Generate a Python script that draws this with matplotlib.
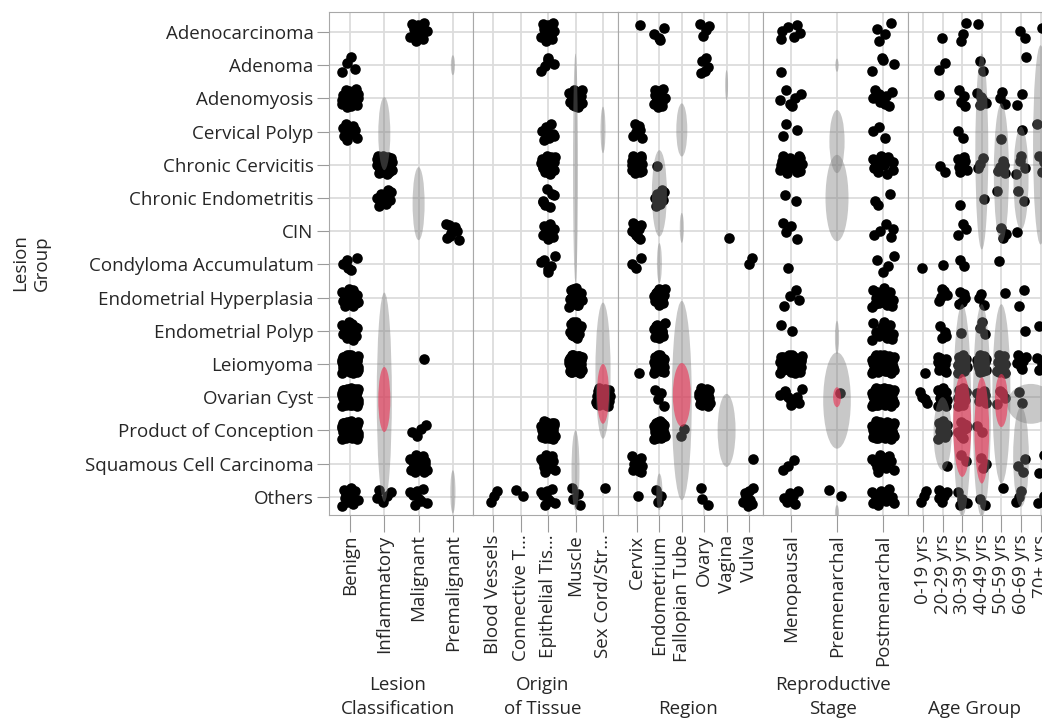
import matplotlib.pyplot as plt
from matplotlib.patches import Ellipse
import numpy as np

plt.rcParams['font.family'] = ['Open Sans', 'DejaVu Sans']

lesion_groups = ['Adenocarcinoma', 'Adenoma', 'Adenomyosis', 'Cervical Polyp',
                 'Chronic Cervicitis', 'Chronic Endometritis', 'CIN',
                 'Condyloma Accumulatum', 'Endometrial Hyperplasia',
                 'Endometrial Polyp', 'Leiomyoma', 'Ovarian Cyst',
                 'Product of Conception', 'Squamous Cell Carcinoma', 'Others']

# counts per (lesion group, category)
classes = ['Benign', 'Inflammatory', 'Malignant', 'Premalignant']
class_counts = [
    [0, 0, 12, 0], [4, 0, 0, 0], [20, 0, 0, 0], [9, 0, 0, 0], [0, 22, 0, 0],
    [0, 8, 0, 0], [0, 0, 0, 9], [5, 0, 0, 0], [18, 0, 0, 0], [14, 0, 0, 0],
    [45, 0, 1, 0], [45, 0, 0, 0], [40, 0, 4, 0], [0, 0, 18, 0], [12, 5, 8, 0],
]
tissues = ['Blood Vessels', 'Connective T...', 'Epithelial Tis...', 'Muscle',
           'Sex Cord/Str...']
tissue_counts = [
    [0, 0, 12, 0, 0], [0, 0, 5, 0, 0], [0, 0, 0, 18, 0], [0, 0, 8, 0, 0],
    [0, 0, 20, 0, 0], [0, 0, 7, 0, 0], [0, 0, 8, 0, 0], [0, 0, 6, 0, 0],
    [0, 0, 0, 16, 0], [0, 0, 0, 12, 0], [0, 0, 0, 40, 0], [0, 0, 0, 0, 30],
    [0, 0, 30, 0, 0], [0, 0, 12, 0, 0], [3, 2, 8, 4, 1],
]
regions = ['Cervix', 'Endometrium', 'Fallopian Tube', 'Ovary', 'Vagina', 'Vulva']
region_counts = [
    [1, 4, 0, 4, 0, 0], [0, 0, 0, 5, 0, 0], [0, 14, 0, 0, 0, 0],
    [6, 0, 0, 0, 0, 0], [20, 1, 0, 0, 0, 0], [0, 8, 0, 0, 0, 0],
    [10, 0, 0, 0, 1, 0], [3, 0, 0, 0, 0, 2], [0, 14, 0, 0, 0, 0],
    [0, 10, 0, 0, 0, 0], [1, 30, 0, 0, 0, 0], [0, 4, 0, 25, 0, 0],
    [0, 28, 2, 0, 0, 0], [12, 0, 0, 0, 0, 1], [1, 3, 0, 3, 0, 8],
]
stages = ['Menopausal', 'Premenarchal', 'Postmenarchal']
stage_counts = [
    [6, 0, 4], [1, 0, 4], [6, 0, 8], [3, 0, 3], [18, 0, 14], [2, 0, 3],
    [4, 0, 5], [1, 0, 4], [4, 0, 18], [2, 0, 12], [35, 0, 40], [10, 1, 40],
    [0, 0, 35], [3, 0, 12], [6, 2, 12],
]
ages = ['0-19 yrs', '20-29 yrs', '30-39 yrs', '40-49 yrs', '50-59 yrs',
        '60-69 yrs', '70+ yrs']
age_counts = [
    [0, 1, 3, 1, 0, 2, 1], [0, 2, 0, 2, 0, 1, 0], [0, 1, 4, 5, 3, 2, 0],
    [0, 0, 2, 0, 1, 1, 1], [0, 2, 8, 3, 5, 4, 3], [0, 0, 1, 1, 1, 2, 0],
    [0, 0, 3, 0, 3, 1, 0], [1, 1, 2, 0, 1, 0, 0], [0, 5, 5, 3, 1, 2, 0],
    [0, 4, 1, 3, 0, 1, 1], [1, 14, 14, 14, 12, 6, 4], [4, 14, 10, 6, 4, 2, 0],
    [0, 14, 10, 2, 0, 0, 0], [0, 1, 2, 3, 0, 3, 2], [3, 5, 4, 2, 1, 3, 2],
]

# density ellipses: (category, row centre, width, height, 'g'ray / 'p'ink)
class_ellipses = [(1, 3.06, 0.35, 2.2, 'g'), (2, 5.17, 0.35, 2.2, 'g'),
                  (3, 1.0, 0.12, 0.6, 'g'), (1, 11.0, 0.44, 6.3, 'g'),
                  (1, 11.07, 0.35, 1.96, 'p'), (3, 13.85, 0.15, 1.3, 'g')]
tissue_ellipses = [(3, 4.1, 0.18, 6.9, 'g'), (4, 2.95, 0.18, 1.4, 'g'),
                   (4, 10.2, 0.55, 4.1, 'g'), (4, 10.9, 0.44, 1.8, 'p'),
                   (3, 13.2, 0.29, 2.4, 'g')]
region_ellipses = [(4, 1.6, 0.13, 0.9, 'g'), (2, 2.95, 0.49, 1.6, 'g'),
                   (1, 4.86, 0.67, 2.6, 'g'), (2, 5.9, 0.18, 0.9, 'g'),
                   (1, 6.96, 0.22, 1.2, 'g'), (2, 11.1, 0.89, 6.0, 'g'),
                   (2, 10.93, 0.8, 1.92, 'p'), (4, 12.0, 0.8, 2.2, 'g'),
                   (1, 13.85, 0.27, 1.1, 'g')]
stage_ellipses = [(1, 1.0, 0.07, 0.4, 'g'), (1, 3.3, 0.33, 1.9, 'g'),
                  (1, 5.0, 0.5, 2.6, 'g'), (1, 9.2, 0.09, 1.0, 'g'),
                  (1, 11.1, 0.6, 2.9, 'g'), (1, 11.0, 0.17, 0.6, 'p'),
                  (1, 14.5, 0.09, 0.5, 'g')]
age_ellipses = [(3, 3.6, 0.66, 5.9, 'g'), (4, 4.25, 0.77, 4.2, 'g'),
                (5, 4.4, 0.77, 3.1, 'g'), (6, 3.4, 0.77, 6.0, 'g'),
                (2, 11.4, 0.92, 6.4, 'g'), (3, 11.4, 0.92, 6.4, 'g'),
                (4, 10.9, 0.92, 5.4, 'g'), (1, 12.1, 0.92, 2.2, 'g'),
                (5.5, 11.2, 2.4, 1.2, 'g'), (5, 12.8, 0.8, 3.0, 'g'),
                (2, 11.85, 0.92, 3.1, 'p'), (3, 12.0, 0.75, 3.2, 'p'),
                (4, 11.1, 0.66, 1.6, 'p')]

panels = [
    ('Lesion\nClassification', classes, class_counts, class_ellipses),
    ('Origin\nof Tissue', tissues, tissue_counts, tissue_ellipses),
    ('Region', regions, region_counts, region_ellipses),
    ('Reproductive\nStage', stages, stage_counts, stage_ellipses),
    ('Age Group', ages, age_counts, age_ellipses),
]

# pixel layout of the 1042x722 picture
W, H = 1042, 722
top, bottom = 12, 515
row0, row_step = 32, 33.2
edges = [329, 473, 618, 763, 908, 1052]
first_tick = [350, 493, 637, 791, 923]
tick_step = [34.3, 27.5, 22.4, 46.0, 19.6]
title_x = [398, 543, 688, 833, 975]
ell_color = {'g': ((0.48, 0.48, 0.48), 0.41), 'p': ((0.92, 0.2, 0.33), 0.62)}
FS = 13.5


def halton(i, base):
    f, r = 1.0, 0.0
    while i > 0:
        f /= base
        r += f * (i % base)
        i //= base
    return r


fig = plt.figure(figsize=(W / 100, H / 100), dpi=100)
for p, (title, cats, counts, ells) in enumerate(panels):
    L, R = edges[p], edges[p + 1]
    ax = fig.add_axes([L / W, 1 - bottom / H, (R - L) / W, (bottom - top) / H])
    s = tick_step[p]
    ax.set_xlim((L - first_tick[p]) / s, (R - first_tick[p]) / s)
    ax.set_ylim((bottom - row0) / row_step, (top - row0) / row_step)

    xs, ys = [], []
    for r, row in enumerate(counts):
        for c, n in enumerate(row):
            start = 5 * r + 11 * c + 3
            for k in range(start, start + n):
                xs.append(c + (halton(k, 2) - 0.5) * 0.5)
                ys.append(r + (halton(k, 3) - 0.5) * 0.56)
    ax.scatter(xs, ys, s=58, c='black', linewidths=0, zorder=2)

    for cx, cy, w, h, kind in ells:
        col, a = ell_color[kind]
        ax.add_patch(Ellipse((cx, cy), w, h, facecolor=col, alpha=a,
                             lw=0, zorder=3))

    ax.set_xticks(range(len(cats)))
    ax.set_xticklabels(cats, rotation=90, fontsize=FS, color='#262626')
    ax.set_yticks(range(len(lesion_groups)))
    if p == 0:
        ax.set_yticklabels(lesion_groups, fontsize=FS, color='#262626')
        ax.tick_params(axis='y', length=9, color='#9a9a9a', pad=2)
    else:
        ax.set_yticklabels([])
        ax.tick_params(axis='y', length=0)
    ax.tick_params(axis='x', length=12, color='#9a9a9a', pad=2)
    ax.grid(True, color='#dcdcdc', lw=1.3)
    ax.set_axisbelow(True)
    for sp in ax.spines.values():
        sp.set_color('#a8a8a8')

    fig.text(title_x[p] / W, 1 - 718 / H, title, ha='center', va='bottom',
             fontsize=FS, color='#262626', linespacing=1.4)

fig.text(31 / W, 1 - 263 / H, 'Lesion\nGroup', rotation=90, ha='center',
         va='center', fontsize=FS, color='#262626', linespacing=1.3)

fig.savefig('out.png', dpi=100)
